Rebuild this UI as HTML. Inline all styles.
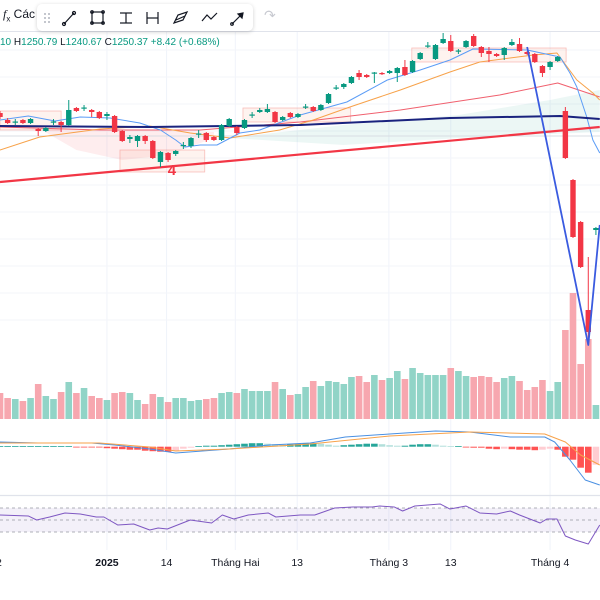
<!DOCTYPE html>
<html><head><meta charset="utf-8"><style>
html,body{margin:0;padding:0;background:#fff;width:600px;height:600px;overflow:hidden;font-family:"Liberation Sans",sans-serif}
svg{display:block}
.tb{position:absolute;left:37px;top:4px;width:216px;height:27px;background:#fff;border-radius:5px;box-shadow:0 1px 4px rgba(0,0,0,.18)}
</style></head><body>
<div style="position:relative;width:600px;height:600px">
<svg id="c" width="600" height="600"></svg>
<div style="position:absolute;left:3px;top:7px;font-size:12px;color:#131722"><i style="font-family:'Liberation Serif',serif">f</i><sub style="font-size:8px">x</sub> Các</div>
<div class="tb">
<svg width="216" height="27">
<g fill="#b2b5be"><circle cx="8" cy="10" r="1"/><circle cx="12" cy="10" r="1"/><circle cx="8" cy="14" r="1"/><circle cx="12" cy="14" r="1"/><circle cx="8" cy="18" r="1"/><circle cx="12" cy="18" r="1"/></g>
<g stroke="#131722" fill="none" stroke-width="1.2">
<g><line x1="27" y1="20" x2="37" y2="9"/><circle cx="27" cy="20" r="1.5"/><circle cx="37" cy="9" r="1.5"/></g>
<g><rect x="55" y="8" width="11" height="11"/><circle cx="55" cy="8" r="1.3"/><circle cx="66" cy="8" r="1.3"/><circle cx="55" cy="19" r="1.3"/><circle cx="66" cy="19" r="1.3"/></g>
<g><line x1="83" y1="9" x2="95" y2="9"/><line x1="83" y1="19" x2="95" y2="19"/><line x1="89" y1="9" x2="89" y2="19"/></g>
<g><line x1="110" y1="8" x2="110" y2="20"/><line x1="121" y1="8" x2="121" y2="20"/><line x1="110" y1="14" x2="121" y2="14"/></g>
<g><path d="M137 19 L141 11 L150 8 L146 16 Z M139 16 L148 12"/></g>
<g><polyline points="165,17 170,11 174,15 180,9"/></g>
<g><line x1="195" y1="20" x2="206" y2="9"/><circle cx="195" cy="20" r="1.3"/><path d="M206 9 l-5 1 l4 4 z" fill="#131722"/></g>
</g></svg></div>
<div style="position:absolute;left:264px;top:7px;color:#c8cad1;font-size:14px">↷</div>
<div style="position:absolute;left:0;top:37px;font-size:10px;white-space:nowrap"><span style="color:#089981">10</span> <span style="color:#131722">H</span><span style="color:#089981">1250.79</span> <span style="color:#131722">L</span><span style="color:#089981">1240.67</span> <span style="color:#131722">C</span><span style="color:#089981">1250.37</span> <span style="color:#089981">+8.42 (+0.68%)</span></div>
</div>
<script>
const candles=[
[1287,1289,1281,1283],[1280,1282,1276,1277],[1278,1281,1275,1278.5],[1280,1281,1276,1277],[1277,1282,1276,1281],
[1271,1272,1264,1269],[1269,1273,1268,1272],[1278,1281,1275,1278.5],[1278,1279,1268,1275],[1275,1300,1274,1290],
[1292,1293,1288,1289],[1292,1295,1289,1292.5],[1290,1291,1283,1288],[1288,1289,1281,1282],[1284,1288,1280,1286],
[1284,1285,1267,1268],[1269,1270,1258,1259],[1261,1265,1257,1263],[1259,1265,1253,1264],[1264,1265,1256,1259],
[1259,1260,1241,1242],[1238,1249,1233,1248],[1247,1248,1238,1240],[1246,1250,1244,1249],[1254.5,1258,1251,1255],
[1254,1263,1252,1262],[1266,1270,1262,1266.5],[1267,1268,1258,1260],[1263,1264,1259,1260],[1260,1276,1259,1275],
[1274,1282,1273,1281],[1273,1274,1265,1267],[1272,1281,1271,1280],[1285,1288,1282,1285.5],[1288,1292,1287,1290],
[1288,1296,1287,1291],[1288,1289,1277,1278],[1280,1284,1279,1283],[1287,1288,1282,1283],[1283,1287,1282,1286],
[1293,1296,1291,1293.5],[1293,1294,1288,1289],[1290,1296,1289,1295],[1297,1307,1296,1306],[1312,1315,1310,1312.5],
[1313,1317,1311,1316],[1317,1324,1316,1323],[1327,1330,1320,1323],[1325,1326,1322,1323],[1327,1328,1317,1327.5],
[1327,1328,1325,1326],[1327,1330,1326,1329],[1327,1333,1318,1332],[1333,1340,1324,1325],[1328,1340,1327,1339],
[1341,1348,1340,1347],[1354,1358,1352,1354.5],[1341,1356,1340,1355],[1357,1367,1356,1361],[1359,1365,1348,1349],
[1349,1351,1346,1349.5],[1353,1360,1352,1359],[1364,1366,1353,1354],[1353,1354,1343,1347],[1349,1353,1338,1346],
[1346,1347,1343,1344],[1345,1353,1340,1352],[1355,1361,1354,1358],[1356,1362,1348,1349],[1348,1349,1345,1346],
[1346,1347,1337,1338],[1334,1335,1323,1327],[1333,1339,1330,1338],[1339,1344,1338,1343],[1289,1293,1241,1242],
[1220,1221,1162,1163],[1178,1179,1132,1133],[1090,1143,1060,1068],[1170,1173,1165,1172]];
const volumes=[26,21,20,18,21,35,23,20,27,37,26,31,23,21,19,26,27,26,19,15,25,22,17,21,21,18,19,20,21,26,27,26,30,28,28,28,37,30,24,25,32,38,33,38,37,35,42,43,37,44,39,41,48,40,51,46,44,44,44,51,48,43,42,43,42,37,41,43,38,29,32,39,28,37,89,126,55,80,14];
const ma20Idx=[0,3.7,7.2,10.5,14.4,18.3,21,23,24.2,26.2,28.4,31.4,34,39.3,45.4,50.7,55,58.9,61.9,69,73.3,74.6,75.5,76.8,77.6,78.5];
const ma20Val=[1280,1284,1279,1283,1282,1277,1270,1260,1253,1255,1255,1267,1270,1285,1298,1320,1330,1340,1351,1350,1343,1327,1313,1283,1260,1247];
const ma50Idx=[0,5.2,13.1,19.6,24.9,30.1,36.6,41,45.8,52.4,58.9,62.8,69.8,72.9,75.5,77.6,78.5];
const ma50Val=[1250,1263,1271,1274,1267,1262,1270,1280,1293,1310,1328,1338,1345,1347,1320,1307,1300];
const ma100Idx=[0,13.1,26.2,39.3,52.4,65.4,73,78.5];
const ma100Val=[1273,1270,1270,1278,1290,1305,1317,1303];
const ma200Idx=[0,19.6,39.3,58.9,73.3,78.5];
const ma200Val=[1274,1273,1275,1282,1284,1281];
const trendIdx=[0,78.5];const trendVal=[1218,1273];
const waveIdx=[69,77,78.5];const waveVal=[1353,1055,1175];
const macdIdx=[0,5,12,15,19.6,23,30,35.3,40.6,45.2,51,57,61.5,66.8,71.3,72.6,74.6,76.6,78.5];
const macdVal=[4.7,3.7,3.7,1.7,-2.3,-6.3,-2.3,1.7,3.7,9.7,12.7,15.7,14.7,9.7,9.7,4.7,-13.3,-33.3,-38.3];
const sigIdx=[0,13,19.6,23,30,40.6,51,61.5,71.3,74,76,78.5];
const sigVal=[3.7,3.7,-0.3,-4.3,-2.3,2.7,10.7,14.7,12.7,4.7,-8.3,-18.3];
const hist=[0.5,0.5,0.5,0.5,0.5,0.5,0.5,0.5,0.5,0.5,-0.5,-0.5,-0.5,-0.5,-1.5,-2,-2.5,-3,-3,-4,-4.5,-5,-5,-4,-2,-1,0.5,1,1,1.5,2,2.5,3,3.5,3.5,3,2.5,2,2.5,3,3.5,3.5,3,2,1,1.5,2,2.5,3,3,2.5,1.5,1,1,2,2.5,2.5,2,1,0.5,0.5,-0.5,-1,-1,-2,-2.5,-2,-2.5,-3,-3,-3.5,-3,-2,-3,-10,-13,-21,-26,-18];
const rsiIdx=[0,3.7,4.8,6.5,8.5,10.5,12.6,13.6,15.4,17.5,19.6,20.7,21.9,24.9,27.7,29.1,30.6,32.5,35.1,36.1,39.3,41.2,43.8,46.2,48.7,49.7,51.6,52.7,54.3,57.6,58.9,61,62.8,65,66.8,68,70.7,71.6,72.9,74,75.3,77,78.5];
const rsiVal=[58.3,56.7,50,55,61.7,60,55,55,41.7,43.3,33.3,36.7,35,50,45,58.3,51.7,58.3,61.7,55,58.3,58.3,70,71.7,71.7,73.3,71.7,65,73.3,76.7,68.3,73.3,61.7,60,65,58.3,45,51.7,51.7,23.3,16.7,10,41.7];
const dateLabels=['2025','14','Tháng Hai','13','Tháng 3','13','Tháng 4'];
const dateIdx=[14,21.8,30.8,38.9,50.9,59,72];

const NS='http://www.w3.org/2000/svg';
const svg=document.getElementById('c');
const X=i=>i*7.64;
const Y=p=>1400-p;
const VY=v=>419-v;
const MY=v=>446.7-v;
const RY=r=>520-(r-50)*0.6;
function el(t,a,parent){const e=document.createElementNS(NS,t);for(const k in a)e.setAttribute(k,a[k]);(parent||svg).appendChild(e);return e;}
// grid
dateIdx.forEach(i=>{const g=el('line',{x1:X(i),x2:X(i),y1:32,y2:550,stroke:'#f0f3fa'});

});
for(let y=50;y<=340;y+=27){const g=el('line',{x1:0,x2:600,y1:y,y2:y,stroke:'#f3f5fa'});

}
el('line',{x1:0,x2:600,y1:31.5,y2:31.5,stroke:'#e0e3eb'});
// clouds
let cl=el('path',{d:`M${X(5)} ${Y(1272)} L${X(13)} ${Y(1270)} L${X(20)} ${Y(1270)} L${X(28)} ${Y(1268)} L${X(28)} ${Y(1262)} L${X(22)} ${Y(1245)} L${X(16)} ${Y(1240)} L${X(10)} ${Y(1250)} Z`,fill:'rgba(242,54,69,0.09)'});


cl=el('path',{d:`M${X(30)} ${Y(1262)} L${X(45)} ${Y(1275)} L${X(60)} ${Y(1285)} L${X(72)} ${Y(1300)} L${X(78.5)} ${Y(1310)} L${X(78.5)} ${Y(1268)} L${X(60)} ${Y(1262)} L${X(45)} ${Y(1255)} Z`,fill:'rgba(8,153,129,0.08)'});


el('line',{x1:0,x2:600,y1:Y(1264),y2:Y(1264),stroke:'#d9dce3'});
// boxes
function box(i0,i1,p0,p1,name){const r=el('rect',{x:X(i0),y:Y(p0),width:X(i1)-X(i0),height:Y(p1)-Y(p0),fill:'rgba(247,160,120,0.12)',stroke:'rgba(242,120,110,0.45)','stroke-width':0.8});

}
box(15.7,26.8,1250,1228,'pattern-box-4');
box(31.8,45.9,1292,1278,'consolidation-box-feb');
box(53.9,74.1,1352,1338,'consolidation-box-mar');
box(0,8,1289,1270,'consolidation-box-dec');
const t4=el('text',{x:X(22.5),y:Y(1228)+3,'font-size':15,fill:'#f23645','text-anchor':'middle','font-weight':'bold'});t4.textContent='4';


// lines
function line(idx,val,color,w,name,sc){const pts=idx.map((d,k)=>X(d)+','+(sc||Y)(val[k])).join(' ');const l=el('polyline',{points:pts,fill:'none',stroke:color,'stroke-width':w,'stroke-linejoin':'round'});

return l;}
line(ma100Idx,ma100Val,'#f0606e',1,'ma100-line');
line(ma50Idx,ma50Val,'#f7a24a',1,'ma50-line');
line(ma20Idx,ma20Val,'#5b9cf6',1,'ma20-line');
line(ma200Idx,ma200Val,'#1a237e',2,'ma200-line');
line(trendIdx,trendVal,'#f23645',2.2,'support-trendline');
// volume
volumes.forEach((v,i)=>{const c=candles[i];const up=c[3]>=c[0];const r=el('rect',{x:X(i)-3.3,y:VY(v),width:6.6,height:v,fill:up?'#91d4c7':'#f7a7af'});

});
// candles
candles.forEach((c,i)=>{const [o,h,l,cl]=c;const up=cl>=o;const col=up?'#089981':'#f23645';const g=el('g',{});


el('line',{x1:X(i),x2:X(i),y1:Y(h),y2:Y(l),stroke:col,'stroke-width':1},g);
const top=Y(Math.max(o,cl)),bh=Math.max(1.2,Math.abs(o-cl));el('rect',{x:X(i)-2.7,y:top,width:5.4,height:bh,fill:col},g);});
line(waveIdx,waveVal,'#3a5be0',1.8,'elliott-wave-line');
// MACD
hist.forEach((h,i)=>{const prev=i?hist[i-1]:h;let col;if(h>=0)col=h>=prev?'#26a69a':'#b2dfdb';else col=h<=prev?'#ff5252':'#ffcdd2';const r=el('rect',{x:X(i)-3.3,y:Math.min(MY(0),MY(h)),width:6.6,height:Math.max(0.8,Math.abs(h)),fill:col});

});
line(macdIdx,macdVal,'#4a90e2',1,'macd-line',MY);
line(sigIdx,sigVal,'#f7a24a',1,'signal-line',MY);
el('line',{x1:0,x2:600,y1:495.5,y2:495.5,stroke:'#e0e3eb','stroke-width':1.2});
// RSI
el('rect',{x:0,y:RY(70),width:600,height:RY(30)-RY(70),fill:'rgba(126,87,194,0.09)'});
[70,50,30].forEach(v=>{const d=el('line',{x1:0,x2:600,y1:RY(v),y2:RY(v),stroke:'#9598a1','stroke-dasharray':'3,3','stroke-width':0.8});

});
line(rsiIdx,rsiVal,'#7e57c2',1,'rsi-line',RY);
// dates
dateLabels.forEach((t,k)=>{const tx=el('text',{x:X(dateIdx[k]),y:566,'font-size':10.5,fill:'#131722','text-anchor':'middle','font-weight':t==='2025'?'bold':'normal'});tx.textContent=t;

});
const t0=el('text',{x:-4,y:566,'font-size':10.5,fill:'#131722'});t0.textContent='2';


</script>
</body></html>
